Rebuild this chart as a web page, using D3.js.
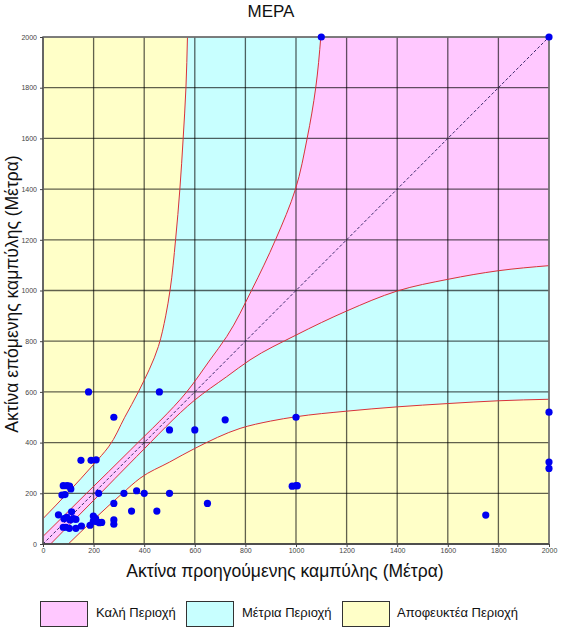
<!DOCTYPE html>
<html><head><meta charset="utf-8">
<script src="https://cdn.jsdelivr.net/npm/d3@7"></script>
<style>body{margin:0;background:#fff;} text{font-family:Arial,"Liberation Sans",sans-serif;}</style>
</head><body><svg id="c" width="568" height="630"></svg>
<script>
const titleText = "ΜΕΡΑ";
const xTitle = "Ακτίνα προηγούμενης καμπύλης (Μέτρα)";
const yTitle = "Ακτίνα επόμενης καμπύλης (Μέτρα)";
const tickValues = [0,200,400,600,800,1000,1200,1400,1600,1800,2000];
const legendLabels = ["Καλή Περιοχή","Μέτρια Περιοχή","Αποφευκτέα Περιοχή"];
const legendColors = ["#ffc8ff","#c8ffff","#ffffc8"];
// boundary of the good (pink) region below the diagonal; mirrored above it
const pinkBoundary = [[30,0],[100,71],[200,172],[370,345],[600,568],[726,660],[818,726],[1000,824],[1200,919],[1400,998],[1600,1044],[1800,1078],[2000,1098]];
// boundary of the fair (cyan) region below the diagonal; mirrored above it
const cyanBoundary = [[100,0],[200,96],[314,200],[383,259],[500,323],[600,377],[779,456],[900,485],[1000,502],[1200,524],[1400,541],[1600,554],[1800,565],[2000,571]];
// observations: previous radius, next radius
const prevRadius = [180,460,280,500,600,720,1000,150,190,210,80,95,105,110,75,87,220,320,370,400,500,280,650,350,450,280,280,985,1000,1005,2000,2000,2000,1750,1100,2000,
  61,83,94,113,107,120,130,80,91,104,130,152,186,199,208,199,212,223,232];
const nextRadius = [600,600,500,450,450,490,500,330,330,332,230,230,228,217,193,195,200,200,210,200,200,160,160,130,130,95,78,228,230,230,520,323,298,114,2000,2000,
  115,100,105,127,95,100,97,66,66,62,62,71,74,110,100,90,88,84,85];

const svg = d3.select("#c");
const x = d3.scaleLinear().domain([0,2000]).range([43,549]);
const y = d3.scaleLinear().domain([0,2000]).range([544,37]);

const plot = svg.append("g");
plot.append("rect").attr("x",x(0)).attr("y",y(2000)).attr("width",x(2000)-x(0)).attr("height",y(0)-y(2000)).attr("fill",legendColors[0]);

const lowArea = d3.area().x(d=>x(d[0])).y0(y(0)).y1(d=>y(d[1])).curve(d3.curveMonotoneX);
const upArea = d3.area().y(d=>y(d[0])).x0(x(0)).x1(d=>x(d[1])).curve(d3.curveMonotoneY);
const lowLine = d3.line().x(d=>x(d[0])).y(d=>y(d[1])).curve(d3.curveMonotoneX);
const upLine = d3.line().y(d=>y(d[0])).x(d=>x(d[1])).curve(d3.curveMonotoneY);

plot.append("path").attr("d",lowArea(pinkBoundary)).attr("fill",legendColors[1]);
plot.append("path").attr("d",upArea(pinkBoundary)).attr("fill",legendColors[1]);
plot.append("path").attr("d",lowArea(cyanBoundary)).attr("fill",legendColors[2]);
plot.append("path").attr("d",upArea(cyanBoundary)).attr("fill",legendColors[2]);

// grid
const grid = svg.append("g").attr("stroke","rgba(0,0,0,0.62)").attr("stroke-width",1.3);
tickValues.forEach(v=>{
  grid.append("line").attr("x1",x(v)).attr("x2",x(v)).attr("y1",y(0)).attr("y2",y(2000));
  grid.append("line").attr("y1",y(v)).attr("y2",y(v)).attr("x1",x(0)).attr("x2",x(2000));
});

// diagonal
svg.append("line").attr("x1",x(0)).attr("y1",y(0)).attr("x2",x(2000)).attr("y2",y(2000))
  .attr("stroke","#3a2a6a").attr("stroke-width",1).attr("stroke-dasharray","3,2");

// red boundaries
[pinkBoundary,cyanBoundary].forEach(b=>{
  svg.append("path").attr("d",lowLine(b)).attr("fill","none").attr("stroke","#d8323a").attr("stroke-width",1);
  svg.append("path").attr("d",upLine(b)).attr("fill","none").attr("stroke","#d8323a").attr("stroke-width",1);
});

// frame
svg.append("rect").attr("x",x(0)).attr("y",y(2000)).attr("width",x(2000)-x(0)).attr("height",y(0)-y(2000))
  .attr("fill","none").attr("stroke","#7a7a7a").attr("stroke-width",1.6);
svg.append("line").attr("x1",x(0)).attr("x2",x(2000)).attr("y1",y(0)).attr("y2",y(0)).attr("stroke","#222").attr("stroke-width",1.2);
svg.append("line").attr("x1",x(0)).attr("x2",x(0)).attr("y1",y(0)).attr("y2",y(2000)).attr("stroke","#555").attr("stroke-width",1.2);

// axes
const xa = svg.append("g").attr("transform",`translate(0,${y(0)})`)
  .call(d3.axisBottom(x).tickValues(tickValues).tickSize(3).tickPadding(1).tickFormat(d3.format("d")));
const ya = svg.append("g").attr("transform",`translate(${x(0)},0)`)
  .call(d3.axisLeft(y).tickValues(tickValues).tickSize(3).tickPadding(3).tickFormat(d3.format("d")));
[xa,ya].forEach(a=>{
  a.select(".domain").remove();
  a.selectAll("line").attr("stroke","#444");
  a.selectAll("text").attr("font-size",7).attr("fill","#444").attr("font-family","Arial, Liberation Sans, sans-serif");
});

// points
svg.append("g").selectAll("circle").data(prevRadius.map((p,i)=>[p,nextRadius[i]])).join("circle")
  .attr("cx",d=>x(d[0])).attr("cy",d=>y(d[1])).attr("r",3.6).attr("fill","#0000f0");

// titles
svg.append("text").attr("x",271).attr("y",17).attr("text-anchor","middle").attr("font-size",17).attr("fill","#111").text(titleText);
svg.append("text").attr("x",285).attr("y",577).attr("text-anchor","middle").attr("font-size",17.5).attr("fill","#111").text(xTitle);
svg.append("text").attr("transform","translate(18,294) rotate(-90)").attr("text-anchor","middle").attr("font-size",17.5).attr("fill","#111").text(yTitle);

// legend
const legX = [40,186,342], txtX=[96,242,397];
legendLabels.forEach((l,i)=>{
  svg.append("rect").attr("x",legX[i]+0.5).attr("y",601.5).attr("width",47).attr("height",25).attr("fill",legendColors[i]).attr("stroke","#333").attr("stroke-width",1);
  svg.append("text").attr("x",txtX[i]).attr("y",616.5).attr("font-size",13).attr("fill","#111").text(l);
});
</script></body></html>
